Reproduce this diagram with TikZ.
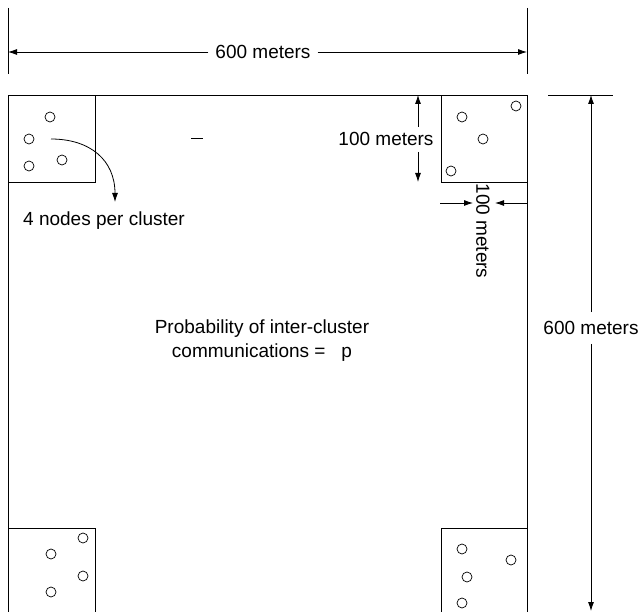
\documentclass[tikz,border=0pt]{standalone}
\usepackage{fontspec}
\setmainfont{Liberation Sans}
\usetikzlibrary{arrows.meta}
\tikzset{
  ln/.style={line width=0.8pt, black},
  dim/.style={ln, -{Latex[length=9pt,width=6pt]}},
  pt/.style={circle, draw, line width=0.7pt, minimum size=10pt, inner sep=0pt},
  lbl/.style={font=\fontsize{19}{23}\selectfont, inner sep=0pt},
  gap/.style={font=\fontsize{19}{23}\selectfont, inner xsep=7pt, inner ysep=9pt}
}
\begin{document}
\begin{tikzpicture}[x=1pt,y=-1pt]
\useasboundingbox (0,0) rectangle (643,612);
% main area and clusters
\draw[ln] (8,95) rectangle (527,614);
\draw[ln] (8,95) rectangle (95,182);
\draw[ln] (441,95) rectangle (527,182);
\draw[ln] (8,528) rectangle (95,614);
\draw[ln] (441,528) rectangle (527,614);
% nodes, top-left
\node[pt] (a1) at (50,117) {};
\node[pt] (a2) at (29,139) {};
\node[pt] (a3) at (29,166) {};
\node[pt] (a4) at (62,160) {};
% nodes, top-right
\node[pt] (b1) at (516,106) {};
\node[pt] (b2) at (462,117) {};
\node[pt] (b3) at (483,139) {};
\node[pt] (b4) at (451,171) {};
% nodes, bottom-left
\node[pt] (c1) at (83,538) {};
\node[pt] (c2) at (51,554) {};
\node[pt] (c3) at (83,576) {};
\node[pt] (c4) at (51,592) {};
% nodes, bottom-right
\node[pt] (d1) at (462,549) {};
\node[pt] (d2) at (511,560) {};
\node[pt] (d3) at (467,577) {};
\node[pt] (d4) at (462,603) {};
% 4 nodes per cluster
\coordinate (cs) at (51,139);
\node[lbl] (npc) at (104,221) {4 nodes per cluster};
\coordinate (ce) at (115,202);
\draw[dim] (cs) .. controls (90,139) and (115,160) .. (ce);
% dash
\coordinate (m1) at (191,139);
\coordinate (m2) at (203,139);
\draw[line width=1pt] (m1) -- (m2);
% top 600 meters
\draw[ln] (8,8) -- (8,74);
\draw[ln] (527,8) -- (527,74);
\coordinate (tl) at (8,52);
\coordinate (tr) at (527,52);
\node[gap] (t600) at (263,52) {600 meters};
\draw[dim] (t600) -- (tl);
\draw[dim] (t600) -- (tr);
% right 600 meters
\draw[ln] (548,95) -- (613,95);
\coordinate (rt) at (591,95);
\coordinate (rb) at (591,611);
\node[gap] (r600) at (591,328) {600 meters};
\draw[dim] (r600) -- (rt);
\draw[dim] (r600) -- (rb);
% vertical 100 meters
\node[lbl] (v100) at (386,139) {100 meters};
\coordinate (vt) at (418,95);
\coordinate (vb) at (418,182);
\coordinate (vm1) at (418,127);
\coordinate (vm2) at (418,152);
\draw[dim] (vm1) -- (vt);
\draw[dim] (vm2) -- (vb);
% horizontal 100 meters
\node[lbl, rotate=-90] (h100) at (483,231) {100 meters};
\coordinate (hl) at (440,203);
\coordinate (hr) at (527,203);
\coordinate (hla) at (473,203);
\coordinate (hra) at (495,203);
\draw[dim] (hl) -- (hla);
\draw[dim] (hr) -- (hra);
% center text
\node[lbl, align=center] (prob) at (262,341) {Probability of inter-cluster\\[1pt]communications =\ \ \ p};
\end{tikzpicture}
\end{document}
